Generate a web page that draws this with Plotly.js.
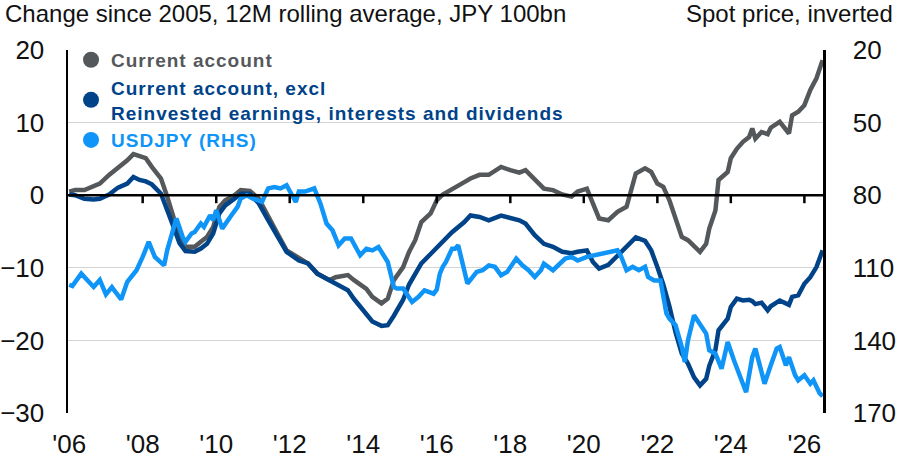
<!DOCTYPE html>
<html>
<head>
<meta charset="utf-8">
<script src="https://cdn.plot.ly/plotly-3.0.1.min.js"></script>
<style>
  html, body { margin: 0; padding: 0; background: #fff; }
  #chart { width: 899px; height: 460px; }
  .legendtext { letter-spacing: 1px; }
</style>
</head>
<body>
<div id="chart"></div>
<script>
// current account series, change since 2005, JPY 100bn (12M rolling avg)
let caDates = [
    '2006-01', '2006-03', '2006-06', '2006-09', '2006-11', '2007-02', '2007-05', '2007-08', '2007-10', '2007-12',
    '2008-02', '2008-04', '2008-07', '2008-09', '2008-11', '2009-01', '2009-03', '2009-06', '2009-08', '2009-10',
    '2009-12', '2010-02', '2010-04', '2010-07', '2010-09', '2010-12', '2011-03', '2011-06', '2011-09', '2011-12',
    '2012-04', '2012-07', '2012-10', '2013-02', '2013-04', '2013-08', '2013-10', '2014-02', '2014-04', '2014-07',
    '2014-09', '2014-11', '2015-02', '2015-04', '2015-06', '2015-08', '2015-11', '2016-01', '2016-03', '2016-06',
    '2016-10', '2016-12', '2017-03', '2017-06', '2017-10', '2018-01', '2018-04', '2018-06', '2018-09', '2018-12',
    '2019-03', '2019-06', '2019-09', '2019-11', '2020-02', '2020-04', '2020-06', '2020-09', '2020-12', '2021-03',
    '2021-05', '2021-06', '2021-09', '2021-11', '2022-01', '2022-03', '2022-05', '2022-07', '2022-09', '2022-11',
    '2023-01', '2023-03', '2023-05', '2023-06', '2023-08', '2023-09', '2023-12', '2024-01', '2024-03', '2024-05',
    '2024-07', '2024-08', '2024-09', '2024-11', '2025-01', '2025-02', '2025-05', '2025-08', '2025-09', '2025-11',
    '2026-01', '2026-03', '2026-05', '2026-07'
];

let caTotal = [
    0.5, 0.7, 0.7, 1.2, 1.6, 2.8, 3.7, 4.8, 5.65, 5.3,
    5.1, 3.9, 2.3, -0.2, -3.0, -5.75, -7.1, -7.1, -6.4, -5.75,
    -4.4, -1.6, -0.7, 0, 0.7, 0.6, -0.5, -3.0, -5.3, -7.6,
    -8.7, -9.4, -10.8, -11.7, -11.3, -11.0, -11.7, -12.9, -14.0, -14.9,
    -14.25, -11.7, -9.9, -7.8, -6.2, -3.7, -2.5, -0.7, 0.1, 0.9,
    1.8, 2.3, 2.8, 2.8, 3.9, 3.45, 3.1, 3.45, 2.1, 0.9,
    0.7, 0.1, -0.2, 0.5, 0.9, -1.15, -3.2, -3.45, -2.3, -1.6,
    1.15, 3.0, 3.7, 3.2, 1.6, 1.15, -0.7, -3.2, -5.75, -6.2,
    -7.1, -7.8, -6.7, -4.6, -2.1, 2.1, 3.2, 5.1, 6.4, 7.35,
    8.0, 9.2, 7.8, 8.7, 8.4, 9.3, 10.1, 8.5, 11.0, 11.5,
    12.4, 14.5, 16.1, 18.6
];

let caExcl = [
    0.1, 0.0, -0.5, -0.6, -0.5, 0.1, 1.05, 1.6, 2.5, 2.1,
    1.9, 1.5, 0.2, -1.9, -4.3, -6.6, -7.7, -7.8, -7.35, -6.7,
    -5.3, -2.5, -1.4, -0.5, 0.2, 0.2, -1.15, -3.45, -5.5, -7.8,
    -9.0, -9.4, -10.8, -11.7, -12.2, -13.1, -14.3, -16.3, -17.4, -18.0,
    -17.9, -16.6, -14.4, -12.3, -10.9, -9.4, -8.1, -7.2, -6.4, -5.1,
    -3.7, -2.8, -3.0, -3.45, -2.8, -3.2, -3.45, -3.9, -5.5, -6.7,
    -7.1, -7.8, -8.0, -7.8, -7.6, -9.2, -10.1, -9.6, -8.4, -7.2,
    -6.2, -5.8, -6.3, -7.6, -9.9, -12.3, -15.3, -18.9, -21.8, -23.2,
    -25.1, -26.2, -25.3, -23.5, -21.3, -18.6, -17.0, -15.4, -14.25, -14.5,
    -14.4, -14.6, -15.0, -14.8, -15.85, -15.3, -14.5, -15.1, -14.0, -13.8,
    -12.2, -11.3, -9.9, -7.6
];

// USDJPY spot (right axis, inverted)
let fxDates = [
    '2006-01', '2006-02', '2006-05', '2006-07', '2006-09', '2006-11', '2007-01', '2007-03', '2007-06', '2007-08',
    '2007-09', '2007-11', '2008-01', '2008-03', '2008-05', '2008-06', '2008-08', '2008-09', '2008-11', '2008-12',
    '2009-02', '2009-03', '2009-05', '2009-06', '2009-08', '2009-09', '2009-11', '2009-12', '2010-01', '2010-03',
    '2010-06', '2010-08', '2010-09', '2010-11', '2011-01', '2011-04', '2011-06', '2011-08', '2011-10', '2011-12',
    '2012-03', '2012-04', '2012-06', '2012-09', '2012-11', '2013-01', '2013-03', '2013-05', '2013-07', '2013-09',
    '2013-12', '2014-02', '2014-04', '2014-06', '2014-09', '2014-11', '2014-12', '2015-02', '2015-05', '2015-07',
    '2015-09', '2015-12', '2016-01', '2016-02', '2016-03', '2016-04', '2016-06', '2016-07', '2016-08', '2016-10',
    '2016-11', '2017-02', '2017-04', '2017-06', '2017-08', '2017-10', '2017-12', '2018-03', '2018-05', '2018-07',
    '2018-09', '2018-11', '2018-12', '2019-03', '2019-05', '2019-07', '2019-09', '2019-11', '2020-02', '2020-05',
    '2020-09', '2020-12', '2021-01', '2021-03', '2021-05', '2021-07', '2021-09', '2021-10', '2021-12', '2022-02',
    '2022-04', '2022-05', '2022-07', '2022-09', '2022-10', '2022-11', '2023-01', '2023-03', '2023-05', '2023-06',
    '2023-08', '2023-10', '2023-11', '2023-12', '2024-02', '2024-03', '2024-05', '2024-06', '2024-08', '2024-09',
    '2024-11', '2024-12', '2025-02', '2025-04', '2025-05', '2025-06', '2025-07', '2025-08', '2025-10', '2025-11',
    '2026-01', '2026-03', '2026-04', '2026-06', '2026-07'
];

let usdjpy = [
    117, 117.5, 112.4, 114.9, 117.9, 115, 121, 118, 123.1, 115.8,
    114.4, 111, 105.5, 99.3, 105.5, 106.9, 109, 102.7, 93.1, 89.6,
    97.2, 99.3, 95.8, 95.2, 91.7, 93.1, 88.3, 90.3, 86.2, 93.8,
    88.3, 84.8, 81.4, 80, 81.4, 82.8, 77.2, 76.6, 77.2, 75.9,
    82.8, 78.5, 78.5, 77.2, 83.4, 91.7, 94.5, 100.7, 97.9, 97.9,
    104.8, 102.1, 102.8, 101.4, 107.6, 117.9, 118.6, 118.6, 124.1, 122.1,
    119.3, 120.7, 119, 112.4, 109.6, 107.6, 102.1, 102.1, 100.7, 111,
    116.5, 111.7, 111, 109, 109.6, 113.1, 111.7, 106.2, 109, 111,
    113.8, 111, 108.3, 111, 108.3, 106.2, 105.5, 107, 105.5, 104.8,
    103.4, 102.8, 104.8, 111, 109.6, 111, 109.6, 113.8, 115.2, 115.2,
    128.9, 131, 133.7, 142.7, 148.9, 140, 129.6, 133, 137.2, 144.1,
    145.5, 151.7, 146.9, 140.7, 148.2, 151.7, 157.9, 161.4, 146.9, 143.4,
    153, 157.9, 150.3, 143.4, 142.7, 146.2, 150.3, 146.9, 154.4, 156.5,
    154.4, 157.9, 156.5, 161.8, 163.1
];

// year ticks drawn on the zero line
let tickDates = [
    '2008-01-01', '2010-01-01', '2012-01-01', '2014-01-01', '2016-01-01',
    '2018-01-01', '2020-01-01', '2022-01-01', '2024-01-01', '2026-01-01'
];

let seriesColors = ['#55585b', '#004389', '#0f94f7'];
let seriesNames = [
    '<span style="color:#55585b">Current account</span>',
    '<span style="color:#004389">Current account, excl</span><br><span style="color:#004389">Reinvested earnings, interests and dividends</span>',
    '<span style="color:#0f94f7">USDJPY (RHS)</span>'
];

let leftTitle = 'Change since 2005, 12M rolling average, JPY 100bn';
let rightTitle = 'Spot price, inverted';

let fontFamily = 'Liberation Sans, Arial, sans-serif';
let tickFont = { family: fontFamily, size: 26, color: '#111' };

let data = [
    {
        x: caDates, y: caTotal, type: 'scatter', mode: 'lines',
        line: { color: seriesColors[0], width: 4.5 },
        showlegend: false
    },
    {
        x: caDates, y: caExcl, type: 'scatter', mode: 'lines',
        line: { color: seriesColors[1], width: 4.5 },
        showlegend: false
    },
    {
        x: fxDates, y: usdjpy, type: 'scatter', mode: 'lines', yaxis: 'y2',
        line: { color: seriesColors[2], width: 4.5 },
        showlegend: false
    }
];

// legend entries with round markers
for (let i = 0; i < seriesNames.length; i++) {
    data.push({
        x: [null], y: [null], type: 'scatter', mode: 'markers',
        name: seriesNames[i],
        marker: { color: seriesColors[i], size: 16 },
        showlegend: true
    });
}

// zero sits at 60% of the plot height (range -30..20)
let zeroPos = 0.6;
let tickLenPaper = 8 / 363;

// black zero line plus short ticks hanging below it
let shapes = [{
    type: 'line', layer: 'above',
    xref: 'paper', x0: 0, x1: 1,
    yref: 'y', y0: 0, y1: 0,
    line: { color: '#000', width: 2.5 }
}];
tickDates.forEach(function (d) {
    shapes.push({
        type: 'line', layer: 'above',
        xref: 'x', x0: d, x1: d,
        yref: 'paper', y0: zeroPos, y1: zeroPos - tickLenPaper,
        line: { color: '#000', width: 2.5 }
    });
});

let xRange = ['2005-12-20', '2026-07-05'];

let layout = {
    width: 899,
    height: 460,
    margin: { l: 68, r: 76, t: 50, b: 47 },
    paper_bgcolor: '#fff',
    plot_bgcolor: '#fff',
    showlegend: true,
    hovermode: false,
    font: { family: fontFamily, color: '#111' },
    xaxis: {
        type: 'date',
        range: xRange,
        dtick: 'M24',
        tick0: '2006-01-01',
        tickformat: "'%y",
        showgrid: false,
        zeroline: false,
        showline: false,
        ticks: '',
        ticklabelstandoff: 13,
        tickfont: tickFont
    },
    yaxis: {
        range: [-30, 20],
        dtick: 10,
        showgrid: true,
        gridcolor: '#d4d4d4',
        gridwidth: 1,
        zeroline: true,
        zerolinecolor: '#000',
        zerolinewidth: 2.5,
        showline: true,
        linecolor: '#000',
        linewidth: 2.5,
        ticks: '',
        ticklabelstandoff: 16,
        tickfont: tickFont
    },
    yaxis2: {
        overlaying: 'y',
        side: 'right',
        range: [170, 20],
        tick0: 20,
        dtick: 30,
        showgrid: false,
        zeroline: false,
        showline: true,
        linecolor: '#000',
        linewidth: 2.5,
        ticks: '',
        ticklabelstandoff: 22,
        tickfont: tickFont
    },
    legend: {
        x: 0.004,
        y: 1.025,
        xanchor: 'left',
        yanchor: 'top',
        bgcolor: 'rgba(0,0,0,0)',
        itemwidth: 30,
        tracegroupgap: 0,
        font: { family: fontFamily, size: 19, weight: 'bold', color: '#55585b' }
    },
    shapes: shapes,
    annotations: [
        {
            text: leftTitle, xref: 'paper', yref: 'paper',
            x: -0.0861, y: 1.0993, xanchor: 'left', yanchor: 'middle',
            showarrow: false,
            font: { family: fontFamily, size: 24, color: '#111' }
        },
        {
            text: rightTitle, xref: 'paper', yref: 'paper',
            x: 1.0954, y: 1.0993, xanchor: 'right', yanchor: 'middle',
            showarrow: false,
            font: { family: fontFamily, size: 24, color: '#111' }
        }
    ]
};

Plotly.newPlot('chart', data, layout, { staticPlot: true, displayModeBar: false });
</script>
</body>
</html>
